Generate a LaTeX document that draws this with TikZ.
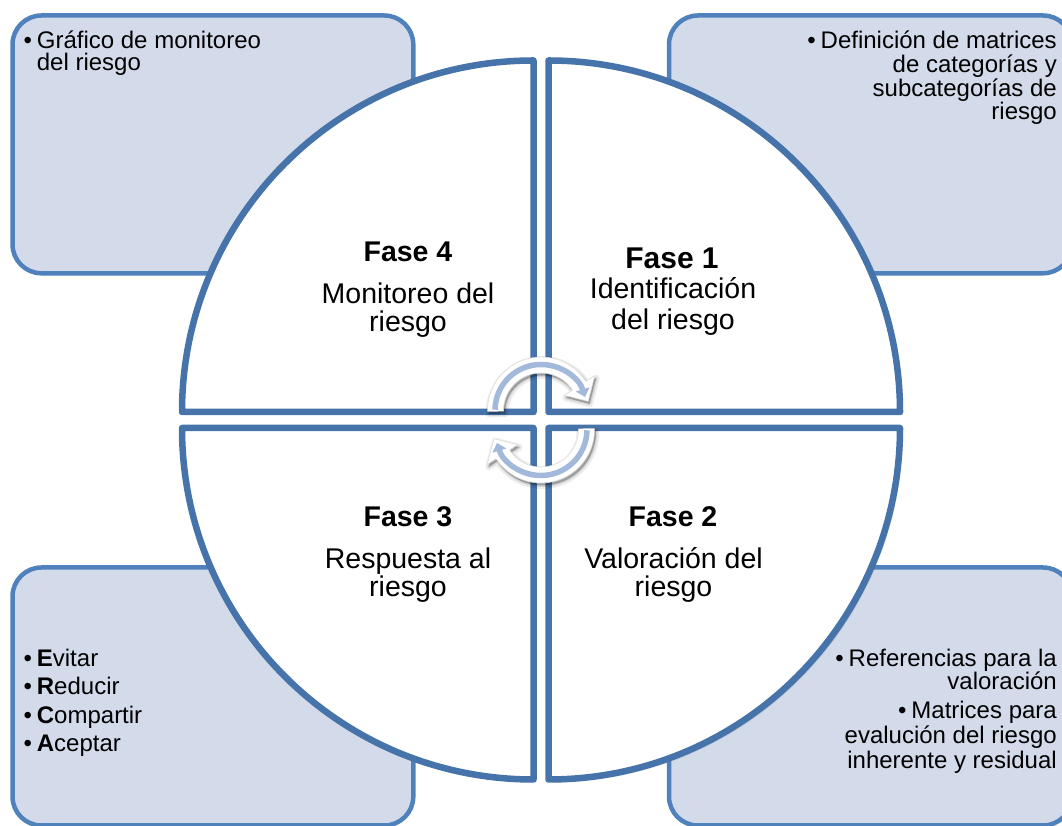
\documentclass[tikz,border=0pt]{standalone}
\usepackage{fontspec}
\setmainfont{Liberation Sans}
\usetikzlibrary{arrows.meta,shadows}
\definecolor{boxfill}{HTML}{D3DBEA}
\definecolor{boxline}{HTML}{4F81BD}
\definecolor{quadline}{HTML}{4674AA}
\definecolor{arrowblue}{HTML}{A3B9DB}
\newcommand{\cyclearrowshape}{%
  \path[band] (181:53.5) arc[start angle=181,end angle=33,radius=53.5]
     -- (33:64) -- (11:48) -- (33:28) -- (33:37.5)
     arc[start angle=33,end angle=181,radius=37.5] -- cycle;
  \draw[inner] (179:46) arc[start angle=179,end angle=17,radius=46];
}
\begin{document}
\begin{tikzpicture}[x=1pt,y=1pt,
  box/.style={draw=boxline, line width=4.5pt, fill=boxfill, rounded corners=29pt},
  quad/.style={draw=quadline, line width=6.5pt, fill=white, line join=round,
    drop shadow={shadow xshift=3pt, shadow yshift=-3pt, opacity=0.18}},
  boxtxt/.style={inner sep=0pt, font=\fontsize{24}{24}\selectfont},
  ttl/.style={inner sep=0pt, anchor=base, font=\fontsize{28.5}{31}\selectfont\bfseries},
  body/.style={inner sep=0pt, anchor=base, font=\fontsize{28.5}{31}\selectfont},
  band/.style={fill=white, draw=black!15, line width=0.5pt, line join=round,
    drop shadow={shadow xshift=1.5pt, shadow yshift=-2.5pt, opacity=0.07,
      fill=black, draw=black, line width=7pt, line join=round},
    drop shadow={shadow xshift=1.5pt, shadow yshift=-2.5pt, opacity=0.10,
      fill=black, draw=black, line width=3pt, line join=round},
    drop shadow={shadow xshift=1.5pt, shadow yshift=-2.5pt, opacity=0.12,
      fill=black}},
  inner/.style={line width=5.5pt, arrowblue, -{Triangle[width=14pt,length=8pt]}},
]
\useasboundingbox (0,0) rectangle (1062,826);
\clip (0,0) rectangle (1062,826);

% corner boxes
\path[box] (12.5,552.7) rectangle (413.3,810.5);
\path[box] (669,552.7) rectangle (1072,810.5);
\path[box] (12.5,0.5) rectangle (413.3,258.5);
\path[box] (669,0.5) rectangle (1072,258.5);

% quadrants
\path[quad] (533.5,414) -- ++(-351.5,0) arc[start angle=180,end angle=90,radius=351.5] -- cycle;
\path[quad] (548.5,414) -- ++(0,351.5) arc[start angle=90,end angle=0,radius=351.5] -- cycle;
\path[quad] (533.5,398) -- ++(0,-351.5) arc[start angle=270,end angle=180,radius=351.5] -- cycle;
\path[quad] (548.5,398) -- ++(351.5,0) arc[start angle=0,end angle=-90,radius=351.5] -- cycle;

% circular arrows
\begin{scope}[shift={(541,415.5)}]
  \cyclearrowshape
\end{scope}
\begin{scope}[shift={(541,396.5)}, rotate=180]
  \cyclearrowshape
\end{scope}

% quadrant texts
\node[ttl] (f4) at (408,564.3) {Fase 4};
\node[body] (f4a) at (408,522.7) {Monitoreo del};
\node[body] (f4b) at (408,494.3) {riesgo};
\node[ttl, font=\fontsize{30}{32}\selectfont\bfseries] (f1) at (672,557.7) {Fase 1};
\node[body] (f1a) at (673,527) {Identificación};
\node[body] (f1b) at (673,496) {del riesgo};
\node[ttl] (f3) at (408,299.3) {Fase 3};
\node[body] (f3a) at (408,257) {Respuesta al};
\node[body] (f3b) at (408,229) {riesgo};
\node[ttl] (f2) at (673,299.3) {Fase 2};
\node[body] (f2a) at (673.5,257) {Valoración del};
\node[body] (f2b) at (673.5,229) {riesgo};

% top-left box text
\node[boxtxt, anchor=base west] (tlb) at (23.5,777.7) {\textbullet};
\node[boxtxt, anchor=base west] (tl1) at (36.7,777.7) {Gráfico de monitoreo};
\node[boxtxt, anchor=base west] (tl2) at (36.7,755) {del riesgo};

% top-right box text
\node[boxtxt, anchor=base east] (tr1) at (1057,777.7) {\textbullet\hspace{5pt}Definición de matrices};
\node[boxtxt, anchor=base east] (tr2) at (1057,753.8) {de categorías y};
\node[boxtxt, anchor=base east] (tr3) at (1057,729.9) {subcategorías de};
\node[boxtxt, anchor=base east] (tr4) at (1057,706) {riesgo};

% bottom-right box text
\node[boxtxt, anchor=base east] (br1) at (1057,159.3) {\textbullet\hspace{5pt}Referencias para la};
\node[boxtxt, anchor=base east] (br2) at (1057,136.7) {valoración};
\node[boxtxt, anchor=base east] (br3) at (1057,107.7) {\textbullet\hspace{5pt}Matrices para};
\node[boxtxt, anchor=base east] (br4) at (1057,82.7) {evalución del riesgo};
\node[boxtxt, anchor=base east] (br5) at (1057,57.7) {inherente y residual};

% bottom-left box text
\node[boxtxt, anchor=base west] (blb1) at (23.5,159.3) {\textbullet};
\node[boxtxt, anchor=base west] (bl1) at (36.7,159.3) {\textbf{E}vitar};
\node[boxtxt, anchor=base west] (blb2) at (23.5,131) {\textbullet};
\node[boxtxt, anchor=base west] (bl2) at (36.7,131) {\textbf{R}educir};
\node[boxtxt, anchor=base west] (blb3) at (23.5,102.7) {\textbullet};
\node[boxtxt, anchor=base west] (bl3) at (36.7,102.7) {\textbf{C}ompartir};
\node[boxtxt, anchor=base west] (blb4) at (23.5,74.3) {\textbullet};
\node[boxtxt, anchor=base west] (bl4) at (36.7,74.3) {\textbf{A}ceptar};
\end{tikzpicture}
\end{document}
